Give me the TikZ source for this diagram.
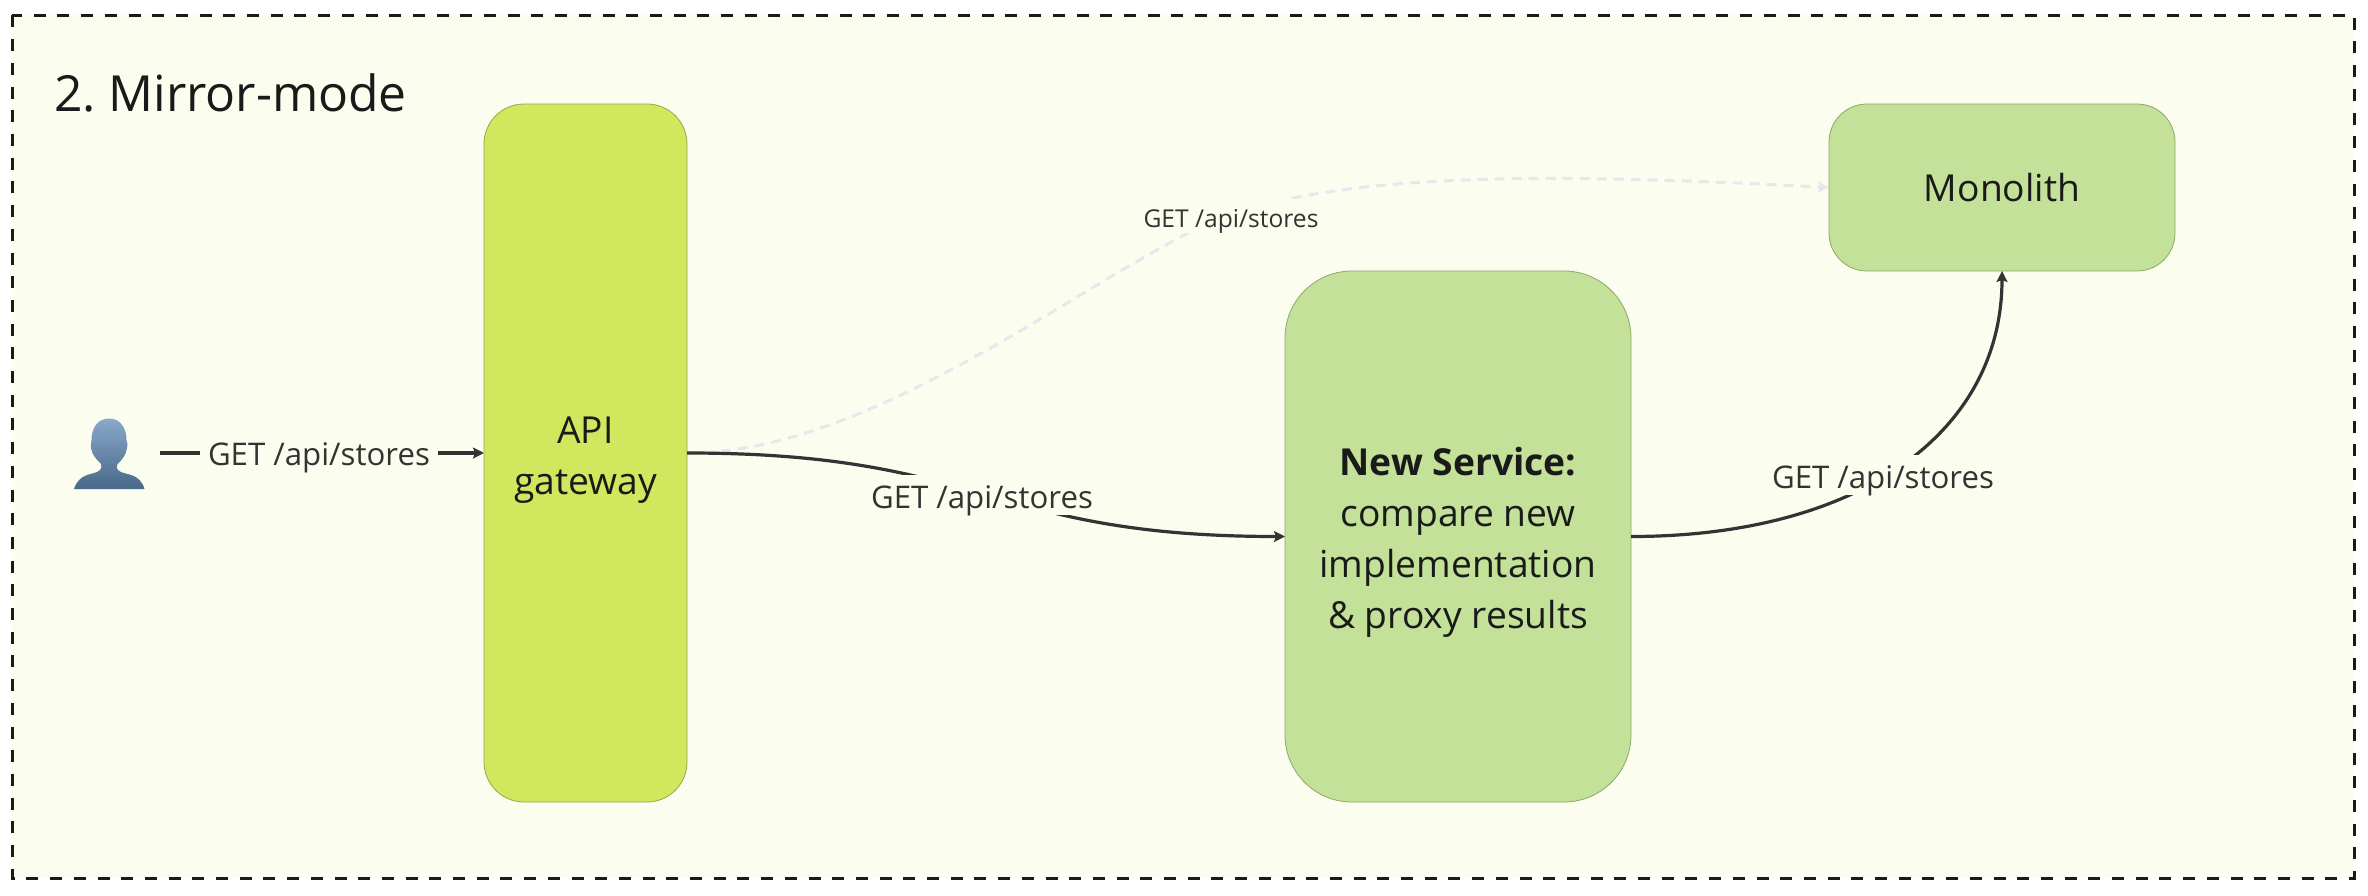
\documentclass[tikz,border=0pt]{standalone}
\usepackage{fontspec}
\setmainfont{Open Sans}
\usetikzlibrary{arrows.meta}
\definecolor{bgc}{HTML}{FBFDEF}
\definecolor{gwc}{HTML}{D1E75D}
\definecolor{gwb}{HTML}{96A850}
\definecolor{svc}{HTML}{C3E198}
\definecolor{svb}{HTML}{8FA66C}
\definecolor{ink}{HTML}{1A1A1A}
\definecolor{lnk}{HTML}{333333}
\definecolor{ghost}{HTML}{E7E8EC}
\definecolor{headtop}{HTML}{8AA8C8}
\definecolor{headbot}{HTML}{48688A}
\newcommand{\firstline}{\rule{0pt}{40pt}}
\newcommand{\labtop}{\rule{0pt}{33pt}}
\tikzset{
  x=1pt,y=-1pt,
  box/.style={draw=svb,fill=svc,line width=0.8pt,align=center,text=ink,font=\fontsize{37.2}{51}\selectfont,inner sep=0pt,outer sep=0pt},
  lab/.style={anchor=base,fill=bgc,text=lnk,font=\fontsize{31.2}{36}\selectfont,inner xsep=8pt,inner ysep=0pt},
  ghostlab/.style={anchor=base,fill=bgc,text=lnk,font=\fontsize{24.6}{30}\selectfont,inner xsep=0pt,inner ysep=0pt},
  conn/.style={draw=lnk,line width=3.2pt,-{Stealth[length=11pt,width=11pt,inset=2pt]}},
  ghostconn/.style={draw=ghost,line width=3pt,dash pattern=on 10pt off 7pt,-{Stealth[length=11pt,width=11pt,inset=2pt]}},
}
\begin{document}
\begin{tikzpicture}
\useasboundingbox (0,0) rectangle (2368,896);
\fill[white] (0,0) rectangle (2368,896);
\draw[fill=bgc,draw=ink,line width=3pt,dash pattern=on 12pt off 11.7pt] (12,15.5) rectangle (2354,878);
\node[anchor=west,text=ink,font=\fontsize{49.8}{58}\selectfont,inner sep=0pt] (title) at (54,93) {2.\hspace{12.5pt}Mirror-mode};

\node[box,draw=gwb,fill=gwc,rounded corners=40pt,minimum width=203pt,minimum height=698pt] (gw) at (585.5,453) {\firstline API\\gateway};
\node[box,rounded corners=67pt,minimum width=346pt,minimum height=531pt] (svc) at (1458,536.5) {\firstline\textbf{New Service:}\\compare new\\implementation\\\&\ proxy results};
\node[box,rounded corners=38pt,minimum width=346pt,minimum height=167pt] (mono) at (2002,187.5) {Monolith};

% user icon
\shade[top color=headtop,bottom color=headbot]
  (109,418.5) .. controls (97,418.5) and (91.5,429) .. (91.5,440)
  .. controls (91,444) and (90.5,446) .. (91,448)
  .. controls (92,455) and (97,460) .. (101,464)
  .. controls (102,468) and (101,470) .. (97,472)
  .. controls (90,475) and (79,474) .. (74,489)
  -- (144.5,489)
  .. controls (140,474) and (128,475) .. (121,472)
  .. controls (117,470) and (116,468) .. (117.5,464)
  .. controls (122,460) and (126,455) .. (127,448)
  .. controls (128,446) and (127.5,444) .. (126.5,440)
  .. controls (126.5,429) and (121,418.5) .. (109,418.5) -- cycle;
\node[minimum width=86pt,minimum height=72pt,inner sep=0pt,outer sep=0pt] (user) at (117,453) {};

% ghost mirror path
\coordinate (gmid) at (1188,233);
\draw[ghostconn] (gw.east) .. controls (860,453) and (1050,305) .. (gmid) .. controls (1300,175) and (1500,170) .. (mono.west);
\node[ghostlab] (l4) at (1231,227) {\rule{0pt}{28pt}GET /api/stores};

% solid
\draw[conn] (user.east) -- (gw.west);
\node[lab] (l1) at (319,465) {\labtop GET /api/stores};
\draw[conn] (gw.east) .. controls (987,453) and (987,536.5) .. (svc.west);
\node[lab] (l2) at (982,508) {\labtop GET /api/stores};
\draw[conn] (svc.east) .. controls (1861,536.5) and (2002,431) .. (mono.south);
\node[lab,inner xsep=4pt] (l3) at (1883,488) {\labtop GET /api/stores};
\end{tikzpicture}
\end{document}
